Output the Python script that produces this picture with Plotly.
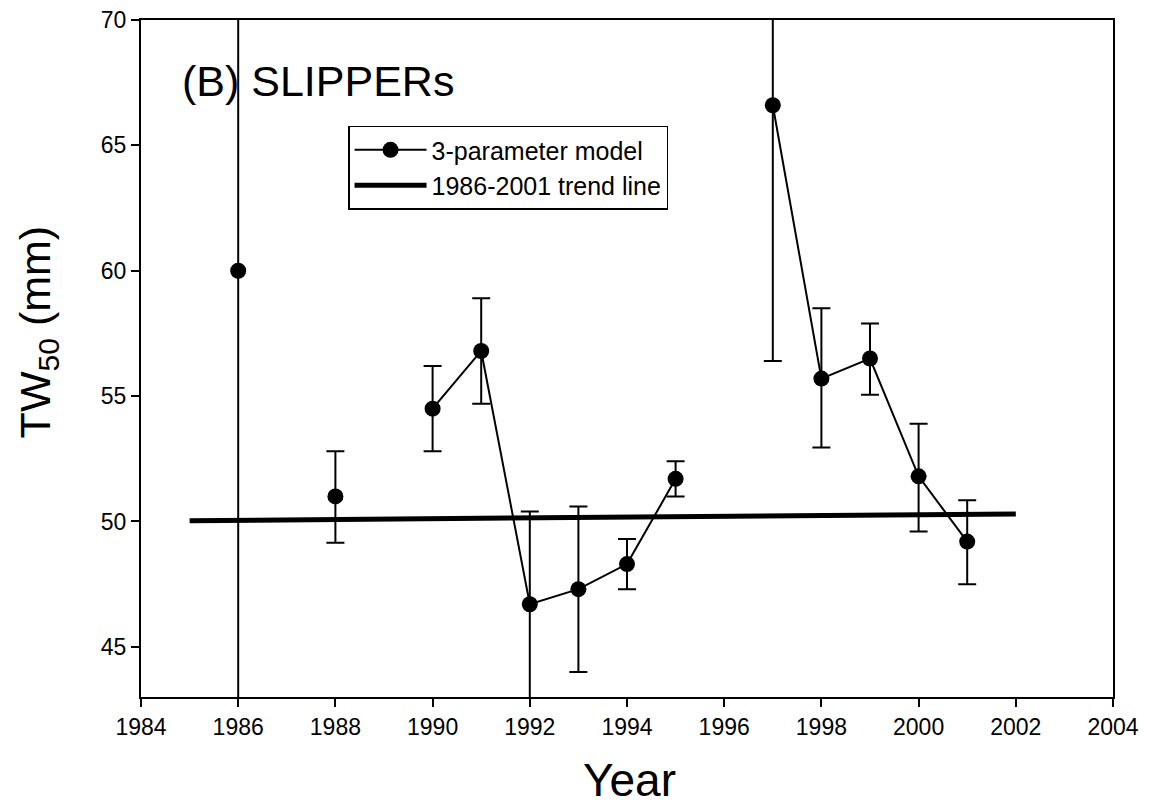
import plotly.graph_objects as go

years = [1986, 1987, 1988, 1989, 1990, 1991, 1992, 1993, 1994, 1995, 1996, 1997, 1998, 1999, 2000, 2001]
tw50 = [60.0, None, 51.0, None, 54.5, 56.8, 46.7, 47.3, 48.3, 51.7, None, 66.6, 55.7, 56.5, 51.8, 49.2]
upper = [80.0, None, 52.8, None, 56.2, 58.9, 50.4, 50.6, 49.3, 52.4, None, 80.0, 58.5, 57.9, 53.9, 50.85]
lower = [30.0, None, 49.15, None, 52.8, 54.7, 30.0, 44.0, 47.3, 51.0, None, 56.4, 52.95, 55.05, 49.6, 47.5]

trend_x = [1985, 2002]
trend_y = [50.03, 50.3]

err_plus = [None if v is None else u - v for v, u in zip(tw50, upper)]
err_minus = [None if v is None else v - l for v, l in zip(tw50, lower)]

FONT = "Liberation Sans, Arial, Helvetica, sans-serif"

fig = go.Figure()
fig.add_trace(go.Scatter(
    x=years, y=tw50, mode="lines+markers", name="3-parameter model",
    line=dict(color="black", width=2),
    marker=dict(color="black", size=16),
    connectgaps=False,
    error_y=dict(type="data", symmetric=False, array=err_plus, arrayminus=err_minus,
                 color="black", thickness=2, width=9),
))
fig.add_trace(go.Scatter(
    x=trend_x, y=trend_y, mode="lines", name="1986-2001 trend line",
    line=dict(color="black", width=5),
))

fig.add_annotation(text="(B) SLIPPERs", xref="paper", yref="paper", x=0.04, y=0.91,
                   xanchor="left", yanchor="middle", showarrow=False,
                   font=dict(size=43, color="black", family=FONT))
fig.add_annotation(text="TW<sub>50</sub> (mm)", xref="paper", yref="paper", x=-0.106, y=0.54,
                   xanchor="center", yanchor="middle", showarrow=False, textangle=-90,
                   font=dict(size=43, color="black", family=FONT))
fig.add_annotation(text="Year", xref="paper", yref="paper", x=0.503, y=-0.122,
                   xanchor="center", yanchor="middle", showarrow=False,
                   font=dict(size=46, color="black", family=FONT))

fig.update_layout(
    width=1150, height=805,
    margin=dict(l=133, r=45, t=12, b=116, autoexpand=False),
    paper_bgcolor="white", plot_bgcolor="white",
    font=dict(family=FONT, color="black", size=22),
    legend=dict(x=0.213, y=0.844, xanchor="left", yanchor="top",
                bordercolor="black", borderwidth=1.5, bgcolor="white",
                font=dict(size=25), tracegroupgap=0, itemwidth=72),
    xaxis=dict(range=[1984, 2004], tickmode="linear", tick0=1984, dtick=2,
               showgrid=False, zeroline=False, showline=True, linecolor="black", linewidth=2,
               mirror=True, ticks="outside", ticklen=8, tickwidth=2, tickcolor="black",
               tickfont=dict(size=23), automargin=False, ticklabeloverflow="allow"),
    yaxis=dict(range=[43, 70], tickmode="linear", tick0=45, dtick=5,
               showgrid=False, zeroline=False, showline=True, linecolor="black", linewidth=2,
               mirror=True, ticks="outside", ticklen=8, tickwidth=2, tickcolor="black",
               tickfont=dict(size=23), automargin=False, ticklabeloverflow="allow"),
)

fig.write_html("out.html")
